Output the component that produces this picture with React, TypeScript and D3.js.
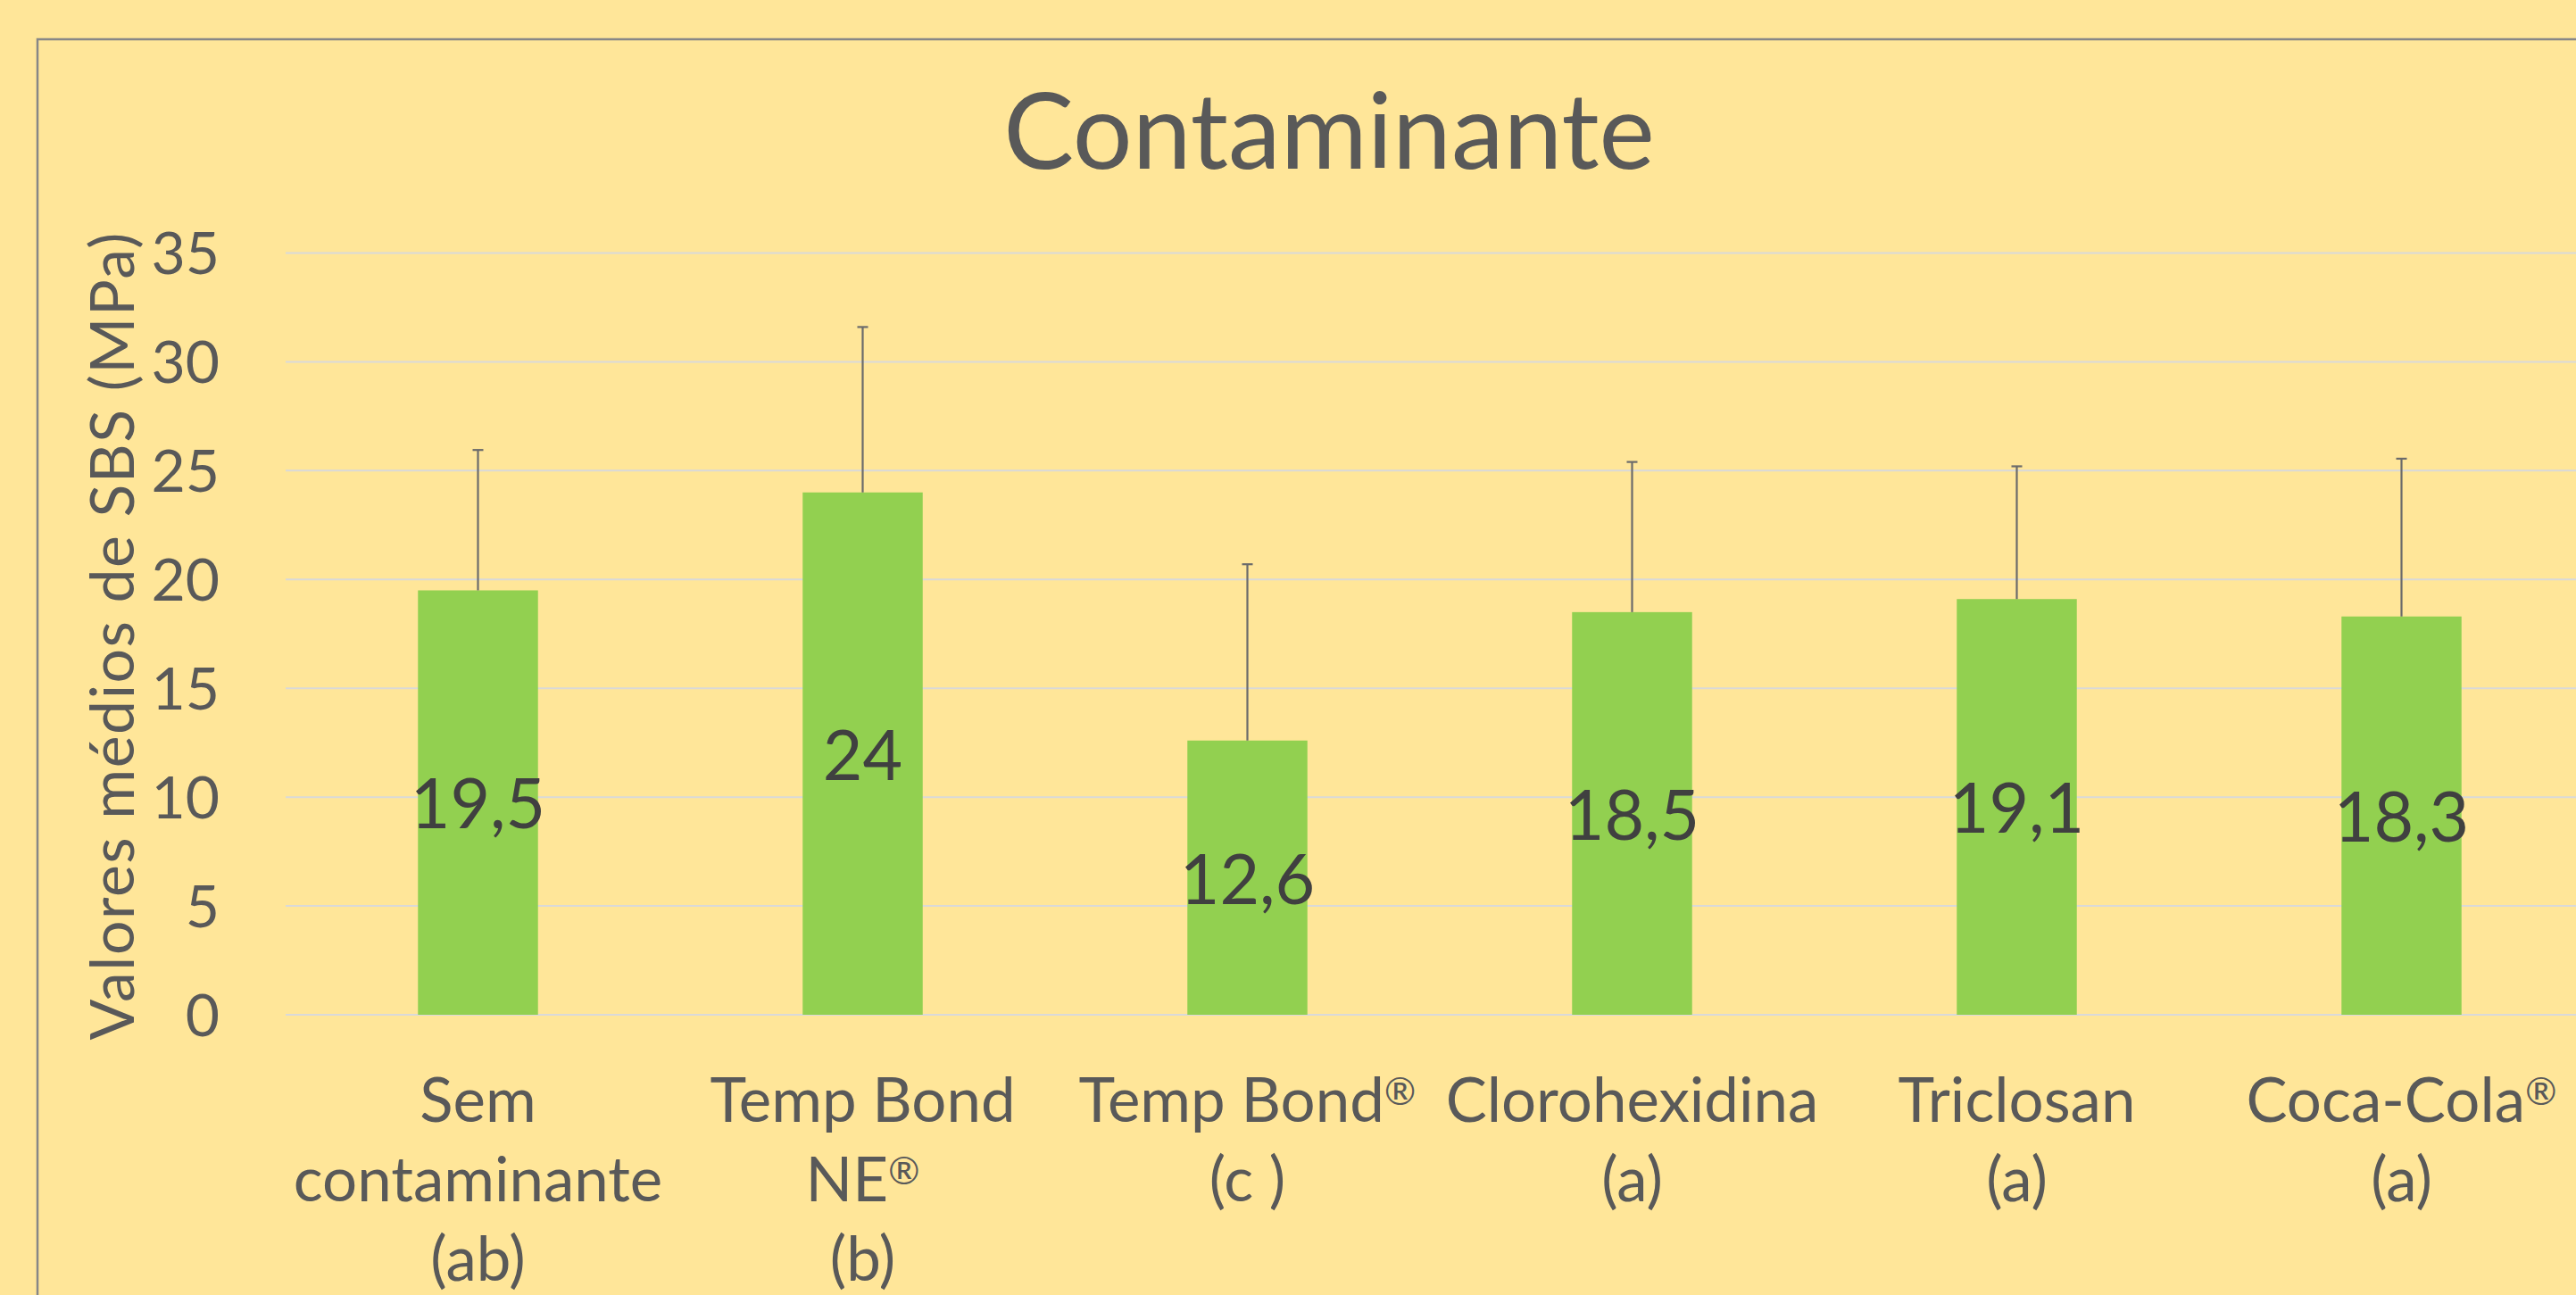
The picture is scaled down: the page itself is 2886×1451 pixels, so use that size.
import { useEffect, useRef } from 'react';
import * as d3 from 'd3';

// categories (multi-line labels as drawn under each bar)
const categories = ['Sem contaminante', 'Temp Bond NE®', 'Temp Bond®', 'Clorohexidina', 'Triclosan', 'Coca-Cola®'];
const categoryLines = [
  ['Sem', 'contaminante', '(ab)'],
  ['Temp Bond', 'NE®', '(b)'],
  ['Temp Bond®', '(c )'],
  ['Clorohexidina', '(a)'],
  ['Triclosan', '(a)'],
  ['Coca-Cola®', '(a)'],
];
const means = [19.5, 24, 12.6, 18.5, 19.1, 18.3];
const meanLabels = ['19,5', '24', '12,6', '18,5', '19,1', '18,3'];
const stdDevs = [6.45, 7.6, 8.1, 6.9, 6.1, 7.25];
const yTicks = [0, 5, 10, 15, 20, 25, 30, 35];

const W = 2886;
const H = 1451;

export default function App() {
  const svgRef = useRef<SVGSVGElement>(null);

  useEffect(() => {
    if (!svgRef.current) return;
    const svg = d3.select(svgRef.current);
    svg.selectAll('*').remove();

    const font = 'Lato, Carlito, Calibri, sans-serif';
    const plot = { left: 320, right: 2906, top: 283.5, bottom: 1137 };

    svg.append('rect').attr('width', W).attr('height', H).attr('fill', '#ffe699');

    // chart frame (cropped on right / bottom)
    svg.append('rect')
      .attr('x', 42).attr('y', 44)
      .attr('width', 3000).attr('height', 1600)
      .attr('fill', 'none')
      .attr('stroke', '#878787')
      .attr('stroke-width', 2.5);

    const x = d3.scaleBand()
      .domain(categories)
      .range([plot.left, plot.right])
      .paddingInner(0.688)
      .paddingOuter(0.344);

    const y = d3.scaleLinear()
      .domain([0, 35])
      .range([plot.bottom, plot.top]);

    // gridlines
    svg.append('g')
      .selectAll('line')
      .data(yTicks)
      .enter()
      .append('line')
      .attr('x1', plot.left)
      .attr('x2', plot.right)
      .attr('y1', d => y(d))
      .attr('y2', d => y(d))
      .attr('stroke', '#d9d9d9')
      .attr('stroke-width', 2);

    // y tick labels
    svg.append('g')
      .selectAll('text')
      .data(yTicks)
      .enter()
      .append('text')
      .attr('x', 246)
      .attr('y', d => y(d))
      .attr('dy', '0.36em')
      .attr('text-anchor', 'end')
      .style('font-family', font)
      .style('font-size', '66px')
      .style('fill', '#595959')
      .text(d => String(d));

    // bars
    svg.append('g')
      .selectAll('rect')
      .data(means)
      .enter()
      .append('rect')
      .attr('x', (_, i) => x(categories[i]) || 0)
      .attr('y', d => y(d))
      .attr('width', x.bandwidth())
      .attr('height', d => y(0) - y(d))
      .attr('fill', '#92d050');

    // error bars (plus only)
    const err = svg.append('g')
      .attr('stroke', '#6b6b6b')
      .attr('stroke-width', 2.2);
    means.forEach((m, i) => {
      const cx = (x(categories[i]) || 0) + x.bandwidth() / 2;
      const top = y(m + stdDevs[i]);
      err.append('line')
        .attr('x1', cx).attr('x2', cx)
        .attr('y1', y(m)).attr('y2', top);
      err.append('line')
        .attr('x1', cx - 6).attr('x2', cx + 6)
        .attr('y1', top).attr('y2', top);
    });

    // data labels
    svg.append('g')
      .selectAll('text')
      .data(means)
      .enter()
      .append('text')
      .attr('x', (_, i) => (x(categories[i]) || 0) + x.bandwidth() / 2)
      .attr('y', d => (y(d) + y(0)) / 2)
      .attr('dy', '0.38em')
      .attr('text-anchor', 'middle')
      .style('font-family', font)
      .style('font-size', '77px')
      .style('fill', '#404040')
      .text((_, i) => meanLabels[i]);

    // category labels, ® drawn small and raised like the original
    const cat = svg.append('g');
    categoryLines.forEach((lines, i) => {
      const cx = (x(categories[i]) || 0) + x.bandwidth() / 2;
      lines.forEach((ln, j) => {
        const t = cat.append('text')
          .attr('x', cx)
          .attr('y', 1257 + j * 89)
          .attr('text-anchor', 'middle')
          .style('font-family', font)
          .style('font-size', '69px')
          .style('fill', '#595959');
        const parts = ln.split('®');
        let raised = false;
        parts.forEach((p, k) => {
          if (p) {
            const s = t.append('tspan').text(p);
            if (raised) { s.attr('dy', '0.28em'); raised = false; }
          }
          if (k < parts.length - 1) {
            t.append('tspan')
              .attr('dy', '-0.45em')
              .style('font-size', '0.62em')
              .text('®');
            raised = true;
          }
        });
      });
    });

    // y axis title
    svg.append('text')
      .attr('transform', `translate(150, 713) rotate(-90)`)
      .attr('text-anchor', 'middle')
      .attr('textLength', 905)
      .attr('lengthAdjust', 'spacing')
      .style('font-family', font)
      .style('font-size', '68px')
      .style('fill', '#595959')
      .text('Valores médios de SBS (MPa)');

    // title
    svg.append('text')
      .attr('x', 1489)
      .attr('y', 189)
      .attr('text-anchor', 'middle')
      .style('font-family', font)
      .style('font-size', '118px')
      .style('fill', '#595959')
      .text('Contaminante');
  }, []);

  return (
    <div style={{ position: 'absolute', left: 0, top: 0, width: W, height: H, overflow: 'hidden' }}>
      <svg ref={svgRef} width={W} height={H} style={{ display: 'block' }}></svg>
    </div>
  );
}
